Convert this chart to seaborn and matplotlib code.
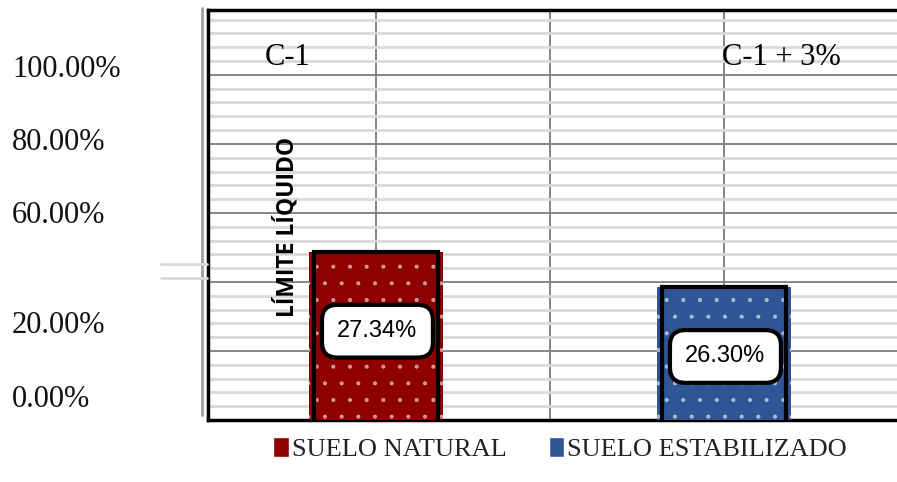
import numpy as np
import pandas as pd
import matplotlib
matplotlib.use("Agg")
import matplotlib.pyplot as plt
import seaborn as sns
from matplotlib.ticker import MultipleLocator
from matplotlib.patches import Patch
from matplotlib.lines import Line2D

# ---- data ----
categories = ["C-1", "C-1 + 3%"]
series = ["SUELO NATURAL", "SUELO ESTABILIZADO"]
values = [27.34, 26.30]
value_labels = ["27.34%", "26.30%"]
tick_labels = ["100.00%", "80.00%", "60.00%", "20.00%", "0.00%"]
axis_title = "LÍMITE LÍQUIDO"

# ---- style ----
RED = "#8E0000"
BLUE = "#2F5597"
sns.set_theme(style="white")
plt.rcParams["font.family"] = ["Liberation Serif", "DejaVu Serif"]
plt.rcParams["text.color"] = "black"
plt.rcParams["hatch.linewidth"] = 0.5

W, H = 897, 482
fig = plt.figure(figsize=(W / 100, H / 100), dpi=100)
fig.patch.set_facecolor("white")


def fx(px):
    return px / W


def fy(py):
    return 1 - py / H


rect = [fx(208), fy(420), fx(897) - fx(208), fy(10) - fy(420)]
XLIM = (-0.483, 1.497)

# grid axes (background)
ax_grid = fig.add_axes(rect)
ax_grid.set_xlim(*XLIM)
ax_grid.set_ylim(0, 118.8)
ax_grid.yaxis.set_major_locator(MultipleLocator(20))
ax_grid.yaxis.set_minor_locator(MultipleLocator(4))
ax_grid.xaxis.set_major_locator(MultipleLocator(0.5))
ax_grid.grid(which="minor", axis="y", color="#d9d9d9", lw=2)
ax_grid.grid(which="major", axis="y", color="#858585", lw=1.4)
ax_grid.grid(which="major", axis="x", color="#858585", lw=1.4)
ax_grid.tick_params(which="both", length=0, labelleft=False, labelbottom=False)
ax_grid.spines["right"].set_visible(False)
for s in ["left", "top", "bottom"]:
    ax_grid.spines[s].set_color("black")
    ax_grid.spines[s].set_linewidth(2.5)

# bar axes (foreground)
ax = fig.add_axes(rect)
ax.patch.set_alpha(0)
df = pd.DataFrame({"categoria": categories, "serie": series, "valor": values})
sns.barplot(data=df, x="categoria", y="valor", hue="serie",
            palette=[RED, BLUE], dodge=False, width=0.385, ax=ax,
            legend=False, linewidth=0, saturation=1)
for p in ax.patches:
    p.set_hatch(".")
    p.set_edgecolor((1, 1, 1, 0.55))
    p.set_linewidth(0)
ax.bar(range(len(values)), values, width=0.355, fill=False,
       edgecolor="black", linewidth=3, zorder=5)
ax.set_xlim(*XLIM)
ax.set_ylim(22.35, 34.53)
ax.set_xlabel("")
ax.set_ylabel("")
ax.set_xticks([])
ax.set_yticks([])
for s in ax.spines.values():
    s.set_visible(False)

# value labels
offsets = [(1, -57), (1, -50)]
for i, (v, lbl) in enumerate(zip(values, value_labels)):
    ax.annotate(lbl, xy=(i, v), xytext=offsets[i], textcoords="offset points",
                ha="center", va="center", fontsize=17, color="black",
                family=["Liberation Sans", "DejaVu Sans"], zorder=10,
                bbox=dict(boxstyle="round,pad=0.65", fc="white", ec="black", lw=3))

# left tick labels (as drawn in the reference)
tick_baselines = [77, 150, 223, 333, 407]
for lbl, yb in zip(tick_labels, tick_baselines):
    fig.text(fx(12), fy(yb), lbl, fontsize=22, ha="left", va="baseline",
             color="#111111")

# category labels at the top
fig.text(fx(265), fy(65), categories[0], fontsize=22, ha="left", va="baseline")
fig.text(fx(722), fy(65), categories[1], fontsize=22, ha="left", va="baseline")

# rotated title
fig.text(fx(287), fy(227), axis_title, rotation=90, fontsize=16.5,
         fontweight="bold", family=["Open Sans", "DejaVu Sans"],
         ha="center", va="center", color="black")

# extra decorative lines
fig.add_artist(Line2D([fx(202), fx(202)], [fy(8), fy(415)], color="#a0a0a0", lw=2))
for yy in (264, 278):
    fig.add_artist(Line2D([fx(161), fx(207)], [fy(yy), fy(yy)], color="#d9d9d9", lw=2))

# legend
handles = [Patch(facecolor=RED), Patch(facecolor=BLUE)]
leg = fig.legend(handles, series, loc="center", bbox_to_anchor=(fx(560), fy(449)),
                 ncol=2, frameon=False, fontsize=19, handlelength=0.6,
                 handleheight=0.8, handletextpad=0.1, columnspacing=1.6)
for t in leg.get_texts():
    t.set_color("#222222")

fig.savefig("out.png", dpi=100, facecolor="white")
